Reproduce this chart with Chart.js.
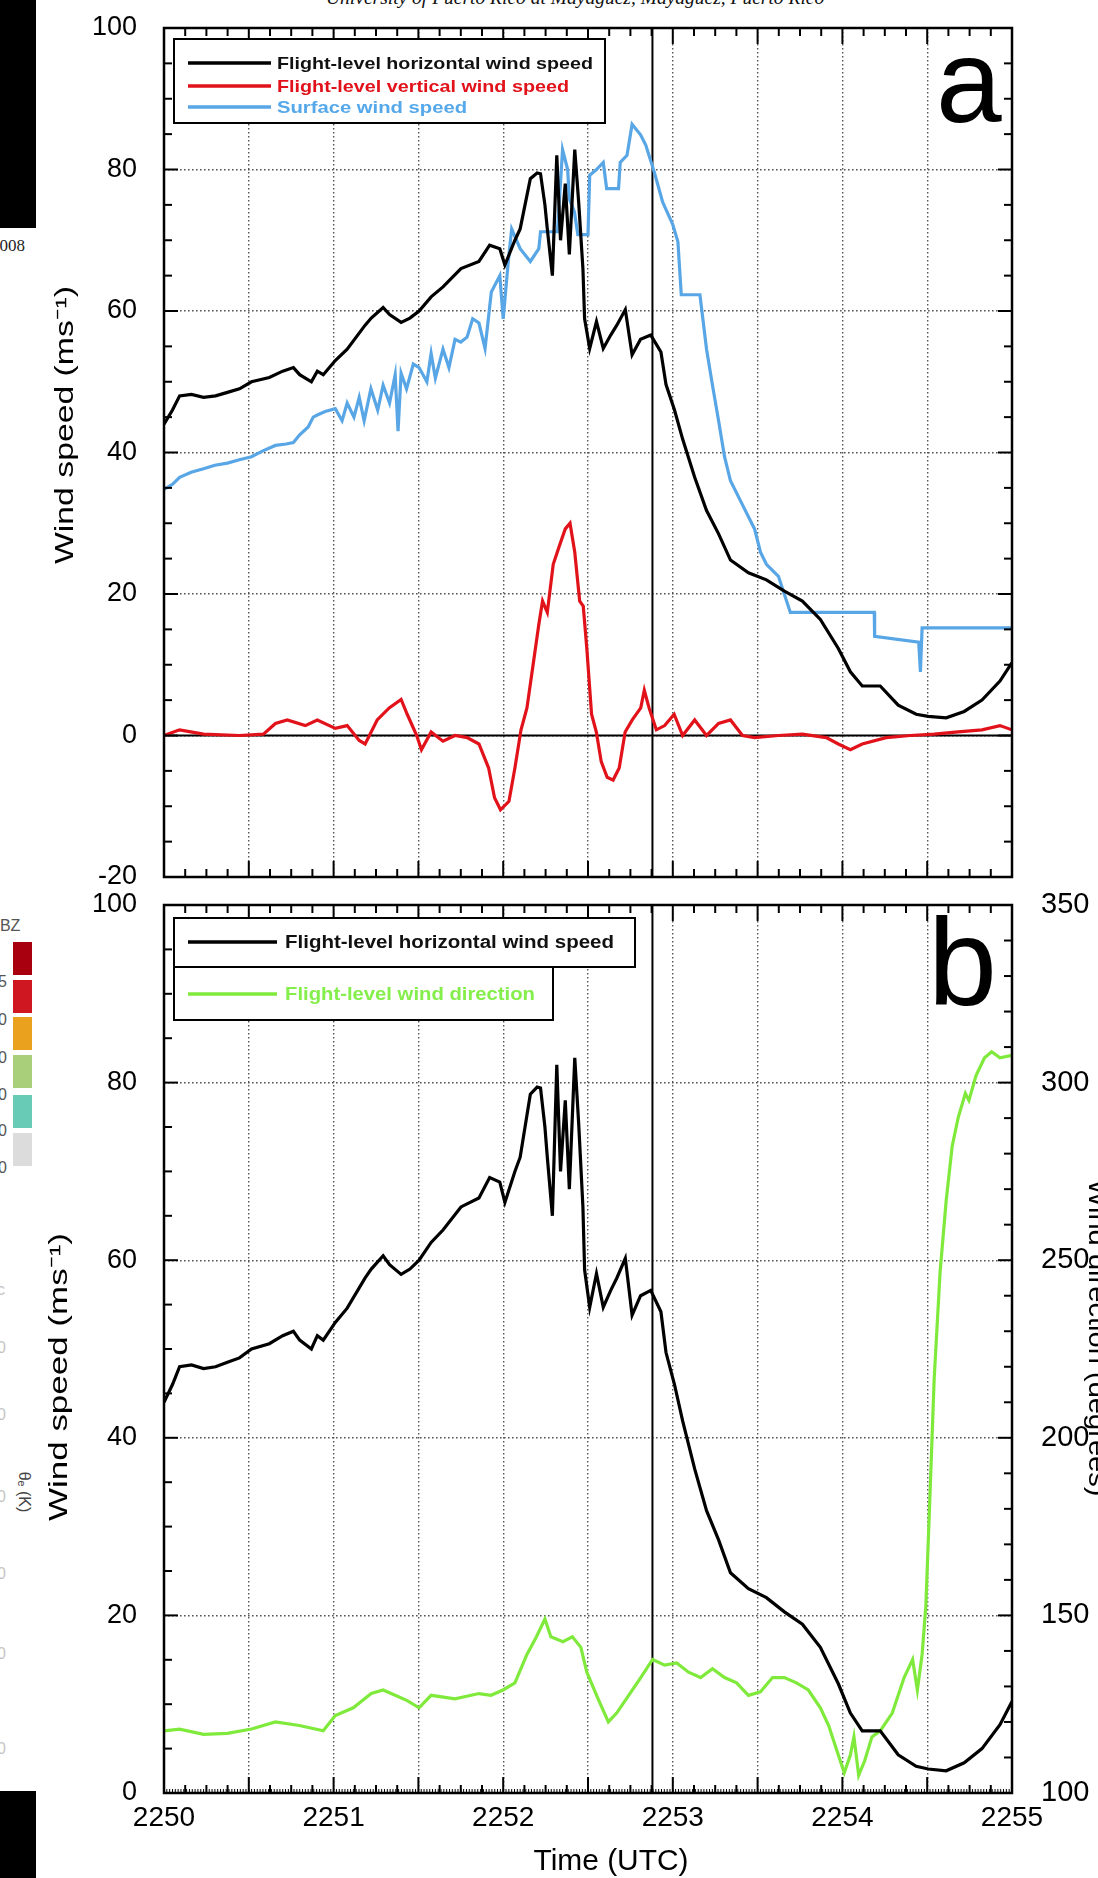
<!DOCTYPE html>
<html>
<head>
<meta charset="utf-8">
<script src="https://cdn.jsdelivr.net/npm/chart.js@4.4.0/dist/chart.umd.min.js"></script>
<style>
html, body { margin: 0; padding: 0; background: #fff; }
body { width: 1098px; height: 1878px; position: relative; overflow: hidden; font-family: "Liberation Sans", Arial, sans-serif; }
canvas { position: absolute; left: 0; }
#chartA { top: 0; }
#chartB { top: 880px; }
.abs { position: absolute; white-space: nowrap; }
.blk { position: absolute; background: #000; }
.sw { position: absolute; left: 13px; width: 19px; height: 33px; }
.cb { position: absolute; font-size: 16px; color: #555; line-height: 16px; }
.faint { position: absolute; left: -3px; font-size: 16px; line-height: 16px; color: #c4c4c4; }
</style>
</head>
<body>
<div class="abs" style="left:326px;top:-12px;font:italic 19.5px 'Liberation Serif',serif;line-height:20px;color:#111">University of Puerto Rico at Mayagüez, Mayagüez, Puerto Rico</div>
<div class="blk" style="left:0;top:0;width:36px;height:228px"></div>
<div class="blk" style="left:0;top:1791px;width:36px;height:87px"></div>
<div class="abs" style="left:-9px;top:237px;font:17px 'Liberation Serif',serif;line-height:18px;color:#222">2008</div>

<div class="cb" style="left:-9px;top:918px">dBZ</div>
<div class="sw" style="top:942px;background:#a8000f"></div>
<div class="sw" style="top:980px;background:#cf1722"></div>
<div class="sw" style="top:1017px;background:#e9a11e"></div>
<div class="sw" style="top:1055px;background:#aacf7a"></div>
<div class="sw" style="top:1095px;background:#68cbb6"></div>
<div class="sw" style="top:1133px;background:#dcdcdc"></div>
<div class="cb" style="left:-2px;top:974px">5</div>
<div class="cb" style="left:-2px;top:1012px">0</div>
<div class="cb" style="left:-2px;top:1050px">0</div>
<div class="cb" style="left:-2px;top:1087px">0</div>
<div class="cb" style="left:-2px;top:1123px">0</div>
<div class="cb" style="left:-2px;top:1160px">0</div>
<div class="faint" style="top:1282px">c</div>
<div class="faint" style="top:1340px">0</div>
<div class="faint" style="top:1407px">0</div>
<div class="faint" style="top:1489px">0</div>
<div class="faint" style="top:1566px">0</div>
<div class="faint" style="top:1646px">0</div>
<div class="faint" style="top:1741px">0</div>
<div class="abs" style="left:24px;top:1492px;font-size:16px;color:#444;transform:translate(-50%,-50%) rotate(90deg)">θₑ (K)</div>

<canvas id="chartA" width="1098" height="900"></canvas>
<canvas id="chartB" width="1098" height="998"></canvas>

<script>
// time is minutes after 2250 UTC
const timeLabels = ['2250', '2251', '2252', '2253', '2254', '2255'];
const speedLabelsA = ['-20', '0', '20', '40', '60', '80', '100'];
const speedLabelsB = ['0', '20', '40', '60', '80', '100'];
const dirLabels = ['100', '150', '200', '250', '300', '350'];
const markerTime = 2.88;

// flight-level horizontal wind speed (m/s)
const hwTime = [0, 0.05, 0.092, 0.162, 0.233, 0.304, 0.374, 0.445, 0.516, 0.621, 0.7, 0.763, 0.8, 0.869, 0.904, 0.939,
  1.01, 1.08, 1.186, 1.222, 1.292, 1.33, 1.398, 1.45, 1.504, 1.575, 1.645, 1.751, 1.857, 1.92, 1.98,
  2.01, 2.069, 2.1, 2.16, 2.2, 2.22, 2.246, 2.26, 2.29, 2.316, 2.338, 2.366, 2.39, 2.422, 2.445, 2.47, 2.48,
  2.51, 2.55, 2.59, 2.634, 2.67, 2.72, 2.76, 2.81, 2.87, 2.93, 2.96, 3.01, 3.058, 3.129, 3.199, 3.27, 3.34,
  3.446, 3.552, 3.658, 3.764, 3.87, 3.976, 4.047, 4.117, 4.223, 4.329, 4.435, 4.506, 4.612, 4.718, 4.823, 4.929, 5.0];
const hwSpeed = [44, 46, 48, 48.2, 47.8, 48, 48.5, 49, 50, 50.6, 51.5, 52, 51, 50, 51.5, 51,
  53, 54.6, 58, 59, 60.5, 59.5, 58.4, 59, 60, 62, 63.4, 66, 67, 69.3, 68.8,
  66.5, 70, 71.6, 78.7, 79.5, 79.4, 75, 71.6, 65, 82, 70, 78, 68, 82.8, 75.4, 66, 58.9,
  54.7, 58.5, 54.7, 56.6, 58, 60.2, 53.8, 56, 56.6, 54.2, 49.6, 46, 41.9, 36.5, 31.8, 28.5, 24.8,
  23, 22, 20.4, 19, 16.4, 12.3, 9, 7, 7, 4.3, 3, 2.7, 2.5, 3.4, 5, 7.7, 10.3];

// flight-level vertical wind speed (m/s)
const vwTime = [0, 0.092, 0.233, 0.445, 0.586, 0.657, 0.727, 0.833, 0.904, 1.01, 1.08, 1.151, 1.186, 1.257, 1.328,
  1.398, 1.434, 1.49, 1.518, 1.575, 1.645, 1.716, 1.787, 1.857, 1.914, 1.949, 1.984, 2.034, 2.069, 2.105,
  2.14, 2.175, 2.21, 2.232, 2.26, 2.295, 2.33, 2.366, 2.394, 2.422, 2.451, 2.472, 2.493, 2.521, 2.549,
  2.578, 2.613, 2.648, 2.684, 2.719, 2.761, 2.811, 2.832, 2.86, 2.903, 2.952, 3.008, 3.058, 3.129, 3.199,
  3.27, 3.34, 3.411, 3.482, 3.623, 3.764, 3.905, 3.976, 4.047, 4.117, 4.258, 4.4, 4.541, 4.682, 4.823, 4.929, 5.0];
const vwSpeed = [0, 0.8, 0.2, 0, 0.2, 1.7, 2.2, 1.4, 2.2, 1, 1.4, -0.7, -1.2, 2.2, 3.9,
  5.1, 3, 0, -2, 0.5, -0.8, 0, -0.3, -1.2, -4.6, -8.8, -10.5, -9.3, -4.6, 0.8,
  3.9, 9.8, 15.7, 19, 17.4, 24.2, 26.7, 29.2, 30, 25.9, 19, 18.3, 12.3, 3, 0.5,
  -3.7, -5.9, -6.3, -4.6, 0.5, 2.2, 3.9, 6.4, 3.9, 0.8, 1.4, 3, 0, 2.2, 0,
  1.7, 2.2, 0, -0.3, 0, 0.2, -0.3, -1.2, -2, -1.2, -0.3, 0, 0.2, 0.5, 0.8, 1.4, 0.8];

// surface wind speed (m/s)
const sfcTime = [0, 0.05, 0.092, 0.16, 0.233, 0.3, 0.374, 0.45, 0.516, 0.58, 0.657, 0.72, 0.763, 0.8, 0.85, 0.88,
  0.904, 0.95, 1.01, 1.05, 1.08, 1.12, 1.151, 1.18, 1.22, 1.26, 1.292, 1.33, 1.363, 1.38, 1.398, 1.43,
  1.47, 1.504, 1.55, 1.575, 1.6, 1.645, 1.68, 1.716, 1.75, 1.787, 1.82, 1.857, 1.893, 1.93, 1.98, 2.0,
  2.03, 2.05, 2.1, 2.16, 2.21, 2.22, 2.32, 2.35, 2.38, 2.39, 2.42, 2.44, 2.5, 2.51, 2.55, 2.59, 2.61,
  2.68, 2.69, 2.73, 2.76, 2.81, 2.84, 2.89, 2.94, 3.0, 3.03, 3.05, 3.16, 3.199, 3.234, 3.27, 3.305, 3.34,
  3.411, 3.482, 3.517, 3.552, 3.623, 3.693, 4.188, 4.19, 4.45, 4.46, 4.47, 5.0];
const sfcSpeed = [34.8, 35.5, 36.5, 37.2, 37.7, 38.2, 38.5, 39, 39.4, 40.2, 41, 41.2, 41.4, 42.5, 43.6, 45,
  45.3, 45.8, 46.2, 44.5, 47, 45, 47.8, 44.5, 49, 46, 49.5, 47, 51, 43, 51.2, 49,
  52.5, 52, 50, 54, 50.5, 54.6, 52, 56, 55.6, 56.3, 58.9, 58.3, 54.7, 62.7, 65, 58.9,
  67, 71.6, 68.8, 67, 68.8, 71.2, 71.2, 82.8, 80, 75.8, 74, 70.8, 70.8, 79.2, 80, 81, 77.3,
  77.3, 81, 82, 86.4, 84.9, 83.5, 79.7, 75.4, 72.2, 69.8, 62.3, 62.3, 54.6, 49.5, 44.5, 39.4, 36,
  32.6, 29.2, 25.9, 24.2, 22.5, 17.4, 17.4, 14, 13.2, 9, 15.2, 15.2];

// flight-level wind direction (degrees)
const dirTime = [0, 0.092, 0.233, 0.374, 0.516, 0.657, 0.798, 0.939, 1.01, 1.116, 1.222, 1.292, 1.363, 1.434,
  1.504, 1.575, 1.716, 1.857, 1.928, 1.999, 2.069, 2.14, 2.196, 2.246, 2.281, 2.352, 2.408, 2.458, 2.493,
  2.564, 2.62, 2.669, 2.74, 2.811, 2.881, 2.952, 3.023, 3.093, 3.164, 3.234, 3.305, 3.376, 3.446, 3.517,
  3.588, 3.658, 3.729, 3.799, 3.87, 3.919, 3.976, 4.011, 4.047, 4.068, 4.096, 4.131, 4.174, 4.223, 4.294,
  4.364, 4.414, 4.442, 4.47, 4.492, 4.513, 4.541, 4.576, 4.612, 4.647, 4.682, 4.725, 4.746, 4.788, 4.838,
  4.88, 4.929, 5.0];
const dirDeg = [117.5, 118, 116.5, 116.8, 118, 120, 119, 117.5, 121.8, 124, 128, 129, 127.5, 126,
  124, 127.5, 126.5, 128, 127.5, 129, 131, 139, 144, 149, 144, 142.6, 144, 141, 134,
  126, 120, 122.5, 127.5, 132.5, 137.6, 136, 136.6, 134, 132.5, 135, 132.5, 131, 127.5, 128.5,
  132.5, 132.5, 131, 129, 124, 119, 110.7, 105.7, 110.7, 115.8, 105, 109, 115.8, 117.5, 122.5,
  132.5, 137.6, 129, 139, 152.7, 179.5, 216.5, 246.7, 266.8, 282, 290, 297, 295, 302, 307,
  308.7, 307, 307.7];

const FONT = '"Liberation Sans", Arial, sans-serif';

function pts(t, v) {
  return t.map((tt, i) => ({ x: tt, y: v[i] }));
}

function seg(ctx, x1, y1, x2, y2) {
  ctx.beginPath();
  ctx.moveTo(x1, y1);
  ctx.lineTo(x2, y2);
  ctx.stroke();
}

// draw text squeezed/stretched to a given width
function fitText(ctx, text, x, y, width, rot) {
  const w = ctx.measureText(text).width;
  ctx.save();
  ctx.translate(x, y);
  ctx.rotate(rot || 0);
  ctx.scale(width / w, 1);
  ctx.fillText(text, 0, 0);
  ctx.restore();
}

const fixW = w => scale => { scale.width = w; scale.paddingTop = 0; scale.paddingBottom = 0; };
const fixH = h => scale => { scale.height = h; scale.paddingLeft = 0; scale.paddingRight = 0; };

const decor = {
  id: 'decor',
  beforeDatasetsDraw(chart, args, o) {
    const { ctx, chartArea: a, scales } = chart;
    ctx.save();
    ctx.strokeStyle = '#000';
    ctx.lineWidth = 2;
    const mx = scales.x.getPixelForValue(markerTime);
    seg(ctx, mx, a.top, mx, a.bottom);
    if (o.zeroLine) {
      const zy = scales.y.getPixelForValue(0);
      seg(ctx, a.left, zy, a.right, zy);
    }
    ctx.restore();
  },
  afterDatasetsDraw(chart, args, o) {
    const { ctx, chartArea: a, scales } = chart;
    const off = o.top;
    ctx.save();
    ctx.strokeStyle = '#000';
    ctx.lineWidth = 2;
    for (let i = 0; i <= 40; i++) {
      const px = scales.x.getPixelForValue(i / 8);
      const len = i % 4 === 0 ? 16 : 8;
      seg(ctx, px, a.top, px, a.top + len);
      seg(ctx, px, a.bottom, px, a.bottom - len);
    }
    if (o.fineTicks) {
      ctx.lineWidth = 1;
      for (let i = 0; i <= 300; i++) {
        const px = scales.x.getPixelForValue(i / 60);
        seg(ctx, px, a.bottom, px, a.bottom - 4);
      }
    }
    ctx.lineWidth = 2;
    const yl = scales.y;
    for (let v = yl.min; v <= yl.max; v += 5) {
      const py = yl.getPixelForValue(v);
      const len = v % 20 === 0 ? 14 : 8;
      seg(ctx, a.left, py, a.left + len, py);
      if (!scales.y2) seg(ctx, a.right - len, py, a.right, py);
    }
    if (scales.y2) {
      const yr = scales.y2;
      for (let v = yr.min; v <= yr.max; v += 10) {
        const py = yr.getPixelForValue(v);
        const len = v % 50 === 0 ? 14 : 8;
        seg(ctx, a.right - len, py, a.right, py);
      }
    }
    ctx.lineWidth = 2.5;
    ctx.strokeRect(a.left, a.top, a.width, a.height);

    // legend
    const lg = o.legend;
    ctx.lineWidth = 2;
    lg.boxes.forEach(b => {
      ctx.fillStyle = '#fff';
      ctx.fillRect(b[0], b[1] - off, b[2], b[3]);
      ctx.strokeRect(b[0], b[1] - off, b[2], b[3]);
    });
    ctx.font = lg.font;
    ctx.textAlign = 'left';
    ctx.textBaseline = 'middle';
    lg.rows.forEach(r => {
      const ds = chart.data.datasets[r.ds];
      ctx.strokeStyle = ds.borderColor;
      ctx.lineWidth = 3.5;
      seg(ctx, lg.lineX[0], r.y - off, lg.lineX[1], r.y - off);
      ctx.fillStyle = r.color;
      fitText(ctx, ds.label, lg.textX, r.y - off + 1, r.w);
    });

    // panel letter
    ctx.fillStyle = '#000';
    ctx.textBaseline = 'alphabetic';
    ctx.font = o.letter.size + 'px ' + FONT;
    ctx.fillText(o.letter.text, o.letter.x, o.letter.y - off);

    // axis titles
    ctx.textAlign = 'center';
    ctx.textBaseline = 'middle';
    o.titles.forEach(t => {
      ctx.font = t.size + 'px ' + FONT;
      fitText(ctx, t.text, t.x, t.y - off, t.w, t.rot);
    });
    ctx.restore();
  }
};

const gridOpts = { color: '#555', lineWidth: 1.4, drawTicks: false };
const borderOpts = { display: false, dash: [1.6, 2.4] };

new Chart(document.getElementById('chartA'), {
  type: 'line',
  data: {
    datasets: [
      { label: 'Flight-level horizontal wind speed', data: pts(hwTime, hwSpeed), borderColor: '#000' },
      { label: 'Flight-level vertical wind speed', data: pts(vwTime, vwSpeed), borderColor: '#e2121a' },
      { label: 'Surface wind speed', data: pts(sfcTime, sfcSpeed), borderColor: '#58a6e6' }
    ]
  },
  options: {
    responsive: false,
    animation: false,
    devicePixelRatio: 1,
    layout: { padding: { top: 28, right: 86, left: 0, bottom: 0 } },
    elements: { point: { radius: 0 }, line: { borderWidth: 3.2, tension: 0 } },
    plugins: {
      legend: { display: false },
      tooltip: { enabled: false },
      decor: {
        top: 0,
        zeroLine: true,
        legend: {
          boxes: [[174, 39, 431, 84]],
          lineX: [188, 271],
          textX: 277,
          font: 'bold 17px ' + FONT,
          rows: [
            { ds: 0, y: 63, w: 316, color: '#111' },
            { ds: 1, y: 86, w: 292, color: '#e2121a' },
            { ds: 2, y: 107, w: 190, color: '#55a8ea' }
          ]
        },
        letter: { text: 'a', x: 936, y: 122, size: 118 },
        titles: [
          { text: 'Wind speed (ms⁻¹)', x: 66, y: 425, w: 278, rot: -Math.PI / 2, size: 26 }
        ]
      }
    },
    scales: {
      x: {
        type: 'linear', min: 0, max: 5,
        ticks: { display: false, stepSize: 0.5 },
        grid: gridOpts, border: borderOpts,
        afterFit: fixH(23)
      },
      y: {
        min: -20, max: 100,
        ticks: {
          stepSize: 20, padding: 27, color: '#000', font: { family: FONT, size: 27 },
          callback: v => speedLabelsA[(v + 20) / 20]
        },
        grid: gridOpts, border: borderOpts,
        afterFit: fixW(164)
      }
    }
  },
  plugins: [decor]
});

new Chart(document.getElementById('chartB'), {
  type: 'line',
  data: {
    datasets: [
      { label: 'Flight-level horizontal wind speed', data: pts(hwTime, hwSpeed), borderColor: '#000', yAxisID: 'y' },
      { label: 'Flight-level wind direction', data: pts(dirTime, dirDeg), borderColor: '#80ea3c', yAxisID: 'y2' }
    ]
  },
  options: {
    responsive: false,
    animation: false,
    devicePixelRatio: 1,
    layout: { padding: { top: 25, right: 0, left: 0, bottom: 0 } },
    elements: { point: { radius: 0 }, line: { borderWidth: 3.2, tension: 0 } },
    plugins: {
      legend: { display: false },
      tooltip: { enabled: false },
      decor: {
        top: 880,
        fineTicks: true,
        legend: {
          boxes: [[174, 918, 461, 49], [174, 967, 379, 53]],
          lineX: [188, 277],
          textX: 285,
          font: 'bold 17.5px ' + FONT,
          rows: [
            { ds: 0, y: 942, w: 329, color: '#111' },
            { ds: 1, y: 994, w: 250, color: '#84ee4a' }
          ]
        },
        letter: { text: 'b', x: 928, y: 1005, size: 124 },
        titles: [
          { text: 'Wind speed (ms⁻¹)', x: 60, y: 1377, w: 288, rot: -Math.PI / 2, size: 26 },
          { text: 'Time (UTC)', x: 611, y: 1862, w: 155, rot: 0, size: 30 },
          { text: 'Wind direction (degrees)', x: 1096, y: 1338, w: 317, rot: Math.PI / 2, size: 26 }
        ]
      }
    },
    scales: {
      x: {
        type: 'linear', min: 0, max: 5,
        ticks: {
          stepSize: 0.5, autoSkip: false, maxRotation: 0, padding: 8, color: '#000',
          font: { family: FONT, size: 28 },
          callback: v => (Number.isInteger(v) ? timeLabels[v] : '')
        },
        grid: gridOpts, border: borderOpts,
        afterFit: fixH(85)
      },
      y: {
        min: 0, max: 100,
        ticks: {
          stepSize: 20, padding: 27, color: '#000', font: { family: FONT, size: 27 },
          callback: v => speedLabelsB[v / 20]
        },
        grid: gridOpts, border: borderOpts,
        afterFit: fixW(164)
      },
      y2: {
        position: 'right', min: 100, max: 350,
        ticks: {
          stepSize: 50, padding: 21, color: '#000', font: { family: FONT, size: 29 },
          callback: v => dirLabels[(v - 100) / 50]
        },
        grid: { display: false }, border: { display: false },
        afterFit: fixW(86)
      }
    }
  },
  plugins: [decor]
});
</script>
</body>
</html>
